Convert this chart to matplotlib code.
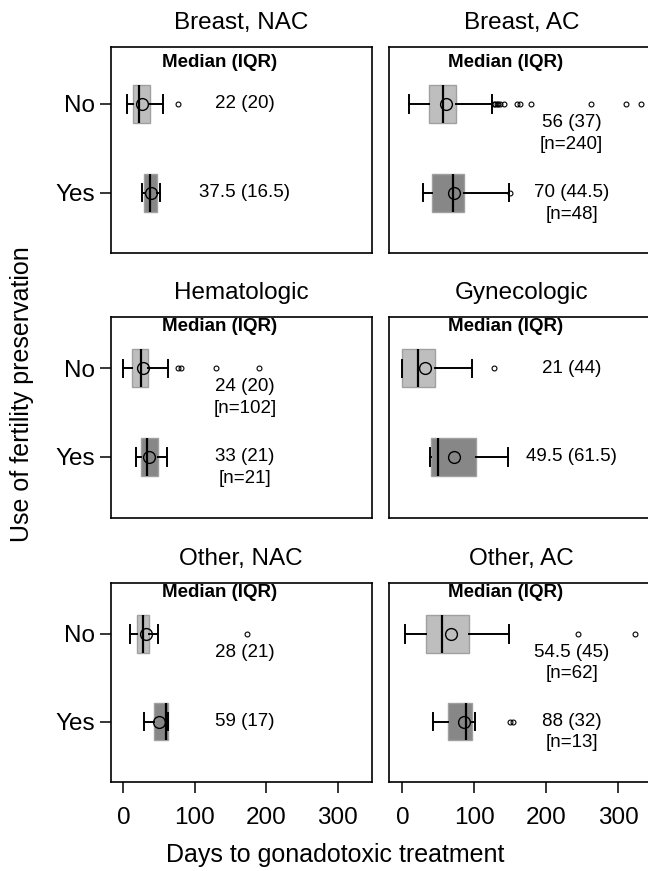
import matplotlib
matplotlib.use("Agg")
import matplotlib.pyplot as plt

plt.rcParams['font.family'] = ['Liberation Sans', 'DejaVu Sans']

# panel titles, row order is (No, Yes)
panels = ["Breast, NAC", "Breast, AC", "Hematologic", "Gynecologic", "Other, NAC", "Other, AC"]
groups = ["No", "Yes"]

# box statistics (days)
# each entry: [No, Yes]
q1 = [[13, 29], [37, 41], [12, 25], [0, 39], [19, 43], [33, 63]]
med = [[22, 37.5], [56, 70], [24, 33], [21, 49.5], [28, 59], [54.5, 88]]
q3 = [[37, 47], [74, 86], [34, 48], [45, 102], [36, 62], [92, 97]]
whis_lo = [[5, 26], [9, 28], [0, 18], [0, 38], [9, 29], [3, 43]]
whis_hi = [[56, 51], [125, 148], [63, 61], [97, 147], [48, 62], [148, 101]]
means = [[26.5, 38], [61, 71], [27, 36], [31, 72], [32, 50], [68, 86]]
fliers = [
    [[76], []],
    [[127, 129, 131, 133, 135, 141, 159, 163, 179, 262, 310, 331], [150]],
    [[77, 80, 130, 190], []],
    [[127], []],
    [[173], []],
    [[244, 323], [150, 154]],
]

# printed annotations
med_iqr = [["22 (20)", "37.5 (16.5)"], ["56 (37)", "70 (44.5)"], ["24 (20)", "33 (21)"],
           ["21 (44)", "49.5 (61.5)"], ["28 (21)", "59 (17)"], ["54.5 (45)", "88 (32)"]]
n_counts = [[None, None], [240, 48], [102, 21], [None, None], [None, None], [62, 13]]
shift_no = [False, True, True, False, True, True]  # No-row text pushed below the outliers

x_ticks = [0, 100, 200, 300]

# layout in pixels of the 648x871 canvas
W, H = 648, 871
rows_px = [(47, 253), (317, 518), (583, 782)]
cols_px = [(110.5, 372), (389.5, 653)]
row_ylim = [(0.32, 2.64), (0.31, 2.58), (0.31, 2.58)]
text_x = [170, 235]
header_x = [135, 143]
face = ["#BEBEBE", "#878787"]

fig = plt.figure(figsize=(W / 100, H / 100), dpi=100)

for i, title in enumerate(panels):
    r, c = divmod(i, 2)
    x0, x1 = cols_px[c]
    y0, y1 = rows_px[r]
    ax = fig.add_axes([x0 / W, 1 - y1 / H, (x1 - x0) / W, (y1 - y0) / H])

    stats = []
    for g in range(2):
        stats.append(dict(med=med[i][g], q1=q1[i][g], q3=q3[i][g], whislo=whis_lo[i][g],
                          whishi=whis_hi[i][g], mean=means[i][g], fliers=fliers[i][g]))
    # Yes at position 1 (bottom), No at position 2 (top)
    bp = ax.bxp(stats, positions=[2, 1], widths=0.43, orientation='horizontal',
                patch_artist=True, showmeans=True, capwidths=0.2, manage_ticks=False,
                boxprops=dict(edgecolor="#A0A0A0", linewidth=1.0),
                whiskerprops=dict(color="black", linewidth=1.4),
                capprops=dict(color="black", linewidth=1.4),
                medianprops=dict(color="black", linewidth=1.6),
                meanprops=dict(marker='o', markerfacecolor='none', markeredgecolor='black',
                               markersize=8.5, markeredgewidth=1.0),
                flierprops=dict(marker='o', markerfacecolor='none', markeredgecolor='black',
                                markersize=3.5, markeredgewidth=0.8))
    for patch, fc in zip(bp['boxes'], face):
        patch.set_facecolor(fc)

    ax.set_xlim(-18, 348)
    ax.set_ylim(*row_ylim[r])
    for sp in ax.spines.values():
        sp.set_linewidth(1.2)

    ax.text(header_x[c], 2.47, "Median (IQR)", ha='center', va='center',
            fontsize=13.5, fontweight='bold')
    for g, ypos in zip(range(2), [2, 1]):
        y = ypos - (0.21 if (g == 0 and shift_no[i]) else 0)
        ax.text(text_x[c], y, med_iqr[i][g], ha='center', va='center', fontsize=13.5)
        if n_counts[i][g] is not None:
            ax.text(text_x[c], y - 0.245, "[n=%d]" % n_counts[i][g], ha='center',
                    va='center', fontsize=13.5)

    ax.annotate(title, xy=(0.5, 1), xycoords='axes fraction', xytext=(0, 24),
                textcoords='offset pixels', ha='center', va='center', fontsize=17.5)

    if c == 0:
        ax.set_yticks([2, 1])
        ax.set_yticklabels(groups)
        ax.tick_params(axis='y', length=8, width=1.1, pad=3, labelsize=17.5)
    else:
        ax.set_yticks([])
    if r == 2:
        ax.set_xticks(x_ticks)
        ax.tick_params(axis='x', length=8, width=1.1, pad=10, labelsize=17.5)
    else:
        ax.set_xticks([])

fig.text(335 / W, 1 - 855 / H, "Days to gonadotoxic treatment", ha='center', va='center',
         fontsize=18)
fig.text(22 / W, 1 - 394 / H, "Use of fertility preservation", ha='center', va='center',
         rotation=90, fontsize=18)

fig.savefig("out.png", dpi=100)
